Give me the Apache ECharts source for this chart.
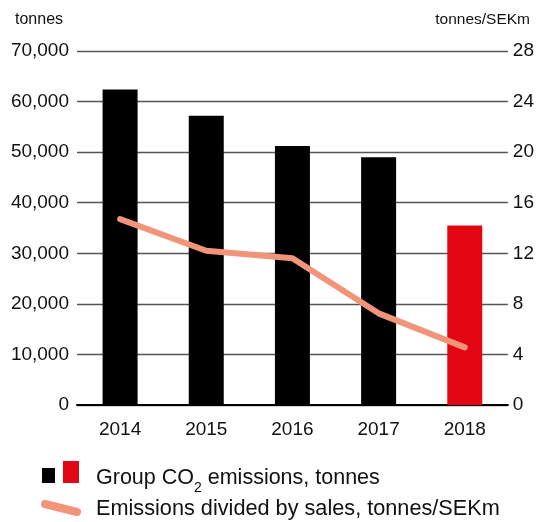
<!DOCTYPE html>
<html><head><meta charset="utf-8">
<script src="https://cdn.jsdelivr.net/npm/echarts@6/dist/echarts.min.js"></script>
<style>html,body{margin:0;padding:0;background:#fff}#c{width:537px;height:522px}</style>
</head><body><div id="c"></div>
<script>
const years = ['2014','2015','2016','2017','2018'];
const emissions = [62400, 57200, 51200, 49000, 35500];
const intensity = [14.7, 12.2, 11.6, 7.25, 4.56];
const leftTicks = {min:0, max:70000, interval:10000};
const rightTicks = {min:0, max:28, interval:4};
const barColors = ['#000000','#000000','#000000','#000000','#e30613'];
const lineColor = '#f19479';
const REG = '"Liberation Sans", Arial, sans-serif';

const chart = echarts.init(document.getElementById('c'), null, {renderer:'canvas'});
chart.setOption({
  animation:false,
  textStyle:{fontFamily:REG},
  grid:{left:77, right:26, top:51, bottom:117},
  xAxis:{type:'category', data:years,
    axisLine:{lineStyle:{color:'#000', width:2}}, axisTick:{show:false},
    axisLabel:{color:'#111', fontSize:19, fontFamily:REG, margin:15}},
  yAxis:[
    {type:'value', min:leftTicks.min, max:leftTicks.max, interval:leftTicks.interval,
     axisLine:{show:false}, axisTick:{show:false},
     splitLine:{lineStyle:{color:'#555', width:1.4}},
     axisLabel:{color:'#111', fontSize:19, fontFamily:REG, margin:8,
       formatter:v=>v.toLocaleString('en-US')}},
    {type:'value', min:rightTicks.min, max:rightTicks.max, interval:rightTicks.interval,
     axisLine:{show:false}, axisTick:{show:false}, splitLine:{show:false},
     axisLabel:{color:'#111', fontSize:19, fontFamily:REG, margin:5}}
  ],
  series:[
    {type:'bar', data:emissions.map((v,i)=>({value:v, itemStyle:{color:barColors[i]}})),
     barWidth:35, yAxisIndex:0},
    {type:'line', data:intensity, yAxisIndex:1, showSymbol:false, symbol:'none',
     lineStyle:{color:lineColor, width:6, cap:'round', join:'round'}, z:5}
  ],
  graphic:[
    {type:'text', x:15, y:12, style:{text:'tonnes', font:'16px '+REG, fill:'#111'}},
    {type:'text', x:530, y:12, style:{text:'tonnes/SEKm', font:'15.5px '+REG, fill:'#111', textAlign:'right'}},
    {type:'rect', shape:{x:42, y:468, width:13, height:15}, style:{fill:'#000'}},
    {type:'rect', shape:{x:63, y:461, width:16, height:22}, style:{fill:'#e30613'}},
    {type:'line', shape:{x1:45, y1:504, x2:77, y2:512}, style:{stroke:lineColor, lineWidth:8, lineCap:'round'}},
    {type:'text', x:96, y:465, style:{
      text:'{a|Group CO}{s|2}{a| emissions, tonnes}',
      rich:{a:{fontSize:21.5, fontFamily:REG, fill:'#111', lineHeight:24, verticalAlign:'bottom'},
            s:{fontSize:14, fontFamily:REG, fill:'#111', lineHeight:24, verticalAlign:'bottom', padding:[0,0,-6,0]}}}},
    {type:'text', x:96, y:498, style:{text:'Emissions divided by sales, tonnes/SEKm', font:'21.7px '+REG, fill:'#111'}}
  ]
});
</script></body></html>
